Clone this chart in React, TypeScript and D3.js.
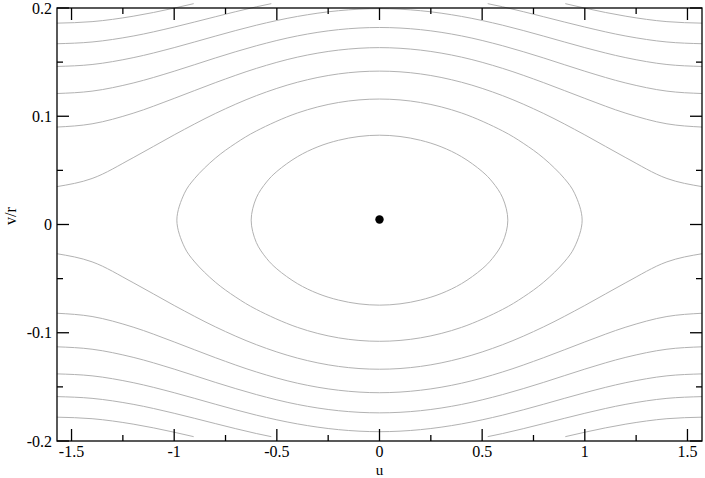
import React from "react";
import * as d3 from "d3";

// axis ticks
const uMajor = [-1.5, -1, -0.5, 0, 0.5, 1, 1.5];
const uLabels = ["-1.5", "-1", "-0.5", "0", "0.5", "1", "1.5"];
const uMinor = [-1.25, -0.75, -0.25, 0.25, 0.75, 1.25];
const vMajor = [-0.2, -0.1, 0, 0.1, 0.2];
const vLabels = ["-0.2", "-0.1", "0", "0.1", "0.2"];
const vMinor = [-0.15, -0.05, 0.05, 0.15];

// open trajectories, sampled on a shared u grid
const uGrid = [-1.571, -1.4, -1.2, -1.0, -0.8, -0.6, -0.4, -0.2, 0, 0.2, 0.4, 0.6, 0.8, 1.0, 1.2, 1.4, 1.571];
const upper1 = [0.035, 0.0425, 0.0617, 0.0828, 0.1025, 0.119, 0.1314, 0.1391, 0.1417, 0.1391, 0.1314, 0.119, 0.1025, 0.0828, 0.0617, 0.0425, 0.035];
const upper2 = [0.09, 0.093, 0.1028, 0.1165, 0.131, 0.1442, 0.1546, 0.1611, 0.1634, 0.1611, 0.1546, 0.1442, 0.131, 0.1165, 0.1028, 0.093, 0.09];
const upper3 = [0.121, 0.1232, 0.1307, 0.1416, 0.1538, 0.1651, 0.1742, 0.18, 0.182, 0.18, 0.1742, 0.1651, 0.1538, 0.1416, 0.1307, 0.1232, 0.121];
const upper4 = [0.146, 0.1478, 0.1541, 0.1634, 0.174, 0.1841, 0.1922, 0.1975, 0.1994, 0.1975, 0.1922, 0.1841, 0.174, 0.1634, 0.1541, 0.1478, 0.146];
const lower1 = [-0.027, -0.0345, -0.0537, -0.0748, -0.0945, -0.111, -0.1234, -0.1311, -0.1337, -0.1311, -0.1234, -0.111, -0.0945, -0.0748, -0.0537, -0.0345, -0.027];
const lower2 = [-0.082, -0.085, -0.0948, -0.1085, -0.123, -0.1362, -0.1466, -0.1531, -0.1554, -0.1531, -0.1466, -0.1362, -0.123, -0.1085, -0.0948, -0.085, -0.082];
const lower3 = [-0.113, -0.1152, -0.1227, -0.1336, -0.1458, -0.1571, -0.1662, -0.172, -0.174, -0.172, -0.1662, -0.1571, -0.1458, -0.1336, -0.1227, -0.1152, -0.113];
const lower4 = [-0.138, -0.1398, -0.1461, -0.1554, -0.166, -0.1761, -0.1842, -0.1895, -0.1914, -0.1895, -0.1842, -0.1761, -0.166, -0.1554, -0.1461, -0.1398, -0.138];

// trajectories that leave the frame (left half; right half is at -u)
const uEdge5 = [-1.571, -1.4, -1.2, -1.0, -0.8, -0.6, -0.527];
const upper5 = [0.167, 0.1686, 0.1741, 0.1824, 0.1919, 0.2011, 0.204];
const lower5 = [-0.159, -0.1606, -0.1661, -0.1744, -0.1839, -0.1931, -0.196];
const uEdge6 = [-1.571, -1.4, -1.2, -1.0, -0.905];
const upper6 = [0.186, 0.1874, 0.1924, 0.1999, 0.204];
const lower6 = [-0.178, -0.1794, -0.1844, -0.1919, -0.196];

// closed orbits around the fixed point
const innerU = [-0.625, -0.6, -0.55, -0.5, -0.4, -0.3, -0.2, -0.1, 0, 0.1, 0.2, 0.3, 0.4, 0.5, 0.55, 0.6, 0.625,
  0.6, 0.55, 0.5, 0.4, 0.3, 0.2, 0.1, 0, -0.1, -0.2, -0.3, -0.4, -0.5, -0.55, -0.6];
const innerV = [0.004, 0.0246, 0.0393, 0.049, 0.0626, 0.0718, 0.0778, 0.0813, 0.0825, 0.0813, 0.0778, 0.0718, 0.0626, 0.049, 0.0393, 0.0246, 0.004,
  -0.0166, -0.0313, -0.041, -0.0546, -0.0638, -0.0698, -0.0733, -0.0745, -0.0733, -0.0698, -0.0638, -0.0546, -0.041, -0.0313, -0.0166];
const outerU = [-0.987, -0.95, -0.9, -0.8, -0.7, -0.6, -0.4, -0.2, 0, 0.2, 0.4, 0.6, 0.7, 0.8, 0.9, 0.95, 0.987,
  0.95, 0.9, 0.8, 0.7, 0.6, 0.4, 0.2, 0, -0.2, -0.4, -0.6, -0.7, -0.8, -0.9, -0.95];
const outerV = [0.004, 0.0289, 0.0426, 0.0612, 0.0751, 0.0864, 0.103, 0.1127, 0.1159, 0.1127, 0.103, 0.0864, 0.0751, 0.0612, 0.0426, 0.0289, 0.004,
  -0.0209, -0.0346, -0.0532, -0.0671, -0.0784, -0.095, -0.1047, -0.1079, -0.1047, -0.095, -0.0784, -0.0671, -0.0532, -0.0346, -0.0209];

const fixedPoint = { u: 0, v: 0.0046 };

const W = 705;
const H = 478;
const frame = { left: 57, right: 702, top: 8, bottom: 441 };
const textStyle = { fontFamily: "Liberation Serif, DejaVu Serif, Times New Roman, serif", fontSize: "16px" };
const lineColour = "#b2b2b2";

const App = () => {
  const x = d3.scaleLinear().domain([-Math.PI / 2, Math.PI / 2]).range([frame.left, frame.right]);
  const y = d3.scaleLinear().domain([-0.2, 0.2]).range([frame.bottom, frame.top]);

  const open = d3.line<[number, number]>()
    .x(d => x(d[0]))
    .y(d => y(d[1]))
    .curve(d3.curveMonotoneX);

  const closed = d3.line<[number, number]>()
    .x(d => x(d[0]))
    .y(d => y(d[1]))
    .curve(d3.curveCatmullRomClosed.alpha(0.5));

  const zip = (us: number[], vs: number[]) => us.map((u, i) => [u, vs[i]] as [number, number]);
  const mirror = (pts: [number, number][]) => pts.map(p => [-p[0], p[1]] as [number, number]).reverse();

  const fullCurves = [upper1, upper2, upper3, upper4, lower1, lower2, lower3, lower4].map(vs => zip(uGrid, vs));
  const edgeCurves = [zip(uEdge5, upper5), zip(uEdge5, lower5), zip(uEdge6, upper6), zip(uEdge6, lower6)];
  const openPaths = [...fullCurves, ...edgeCurves, ...edgeCurves.map(mirror)];

  const major = 12;
  const minor = 6;

  return (
    <div style={{ position: "fixed", left: 0, top: 0 }}>
      <svg width={W} height={H} style={{ display: "block", background: "white" }}>
        {openPaths.map((pts, i) => (
          <path key={"o" + i} d={open(pts) || ""} fill="none" stroke={lineColour} strokeWidth={1} />
        ))}
        <path d={closed(zip(innerU, innerV)) || ""} fill="none" stroke={lineColour} strokeWidth={1} />
        <path d={closed(zip(outerU, outerV)) || ""} fill="none" stroke={lineColour} strokeWidth={1} />
        <circle cx={x(fixedPoint.u)} cy={y(fixedPoint.v)} r={4.2} fill="black" />

        <rect x={frame.left} y={frame.top} width={frame.right - frame.left} height={frame.bottom - frame.top}
          fill="none" stroke="black" strokeWidth={1.3} />

        <g stroke="black" strokeWidth={1.3}>
          {uMajor.map(u => (
            <g key={"ux" + u}>
              <line x1={x(u)} x2={x(u)} y1={frame.bottom} y2={frame.bottom - major} />
              <line x1={x(u)} x2={x(u)} y1={frame.top} y2={frame.top + major} />
            </g>
          ))}
          {uMinor.map(u => (
            <g key={"um" + u}>
              <line x1={x(u)} x2={x(u)} y1={frame.bottom} y2={frame.bottom - minor} />
              <line x1={x(u)} x2={x(u)} y1={frame.top} y2={frame.top + minor} />
            </g>
          ))}
          {vMajor.map(v => (
            <g key={"vx" + v}>
              <line x1={frame.left} x2={frame.left + major} y1={y(v)} y2={y(v)} />
              <line x1={frame.right} x2={frame.right - major} y1={y(v)} y2={y(v)} />
            </g>
          ))}
          {vMinor.map(v => (
            <g key={"vm" + v}>
              <line x1={frame.left} x2={frame.left + minor} y1={y(v)} y2={y(v)} />
              <line x1={frame.right} x2={frame.right - minor} y1={y(v)} y2={y(v)} />
            </g>
          ))}
        </g>

        <g style={textStyle} fill="black">
          {uMajor.map((u, i) => (
            <text key={"ul" + u} x={x(u)} y={457} textAnchor="middle">{uLabels[i]}</text>
          ))}
          {vMajor.map((v, i) => (
            <text key={"vl" + v} x={52} y={y(v) + 5.5} textAnchor="end">{vLabels[i]}</text>
          ))}
          <text x={x(0)} y={475} textAnchor="middle" style={{ fontSize: "15px" }}>u</text>
          <text transform="translate(16,216) rotate(-90)" textAnchor="middle">v/r</text>
        </g>
      </svg>
    </div>
  );
};

export default App;
